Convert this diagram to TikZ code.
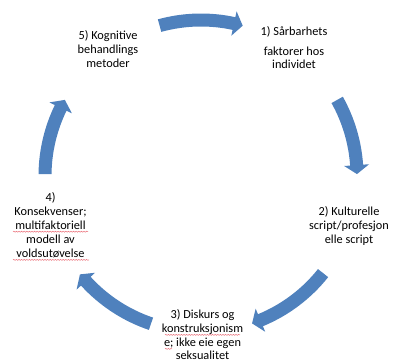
\documentclass[tikz,border=0pt]{standalone}
\usepackage{fontspec}
\setmainfont{Carlito}
\usetikzlibrary{calc,decorations.pathmorphing}
\definecolor{arrowblue}{RGB}{79,129,189}
\definecolor{spellred}{RGB}{235,110,120}
\newcommand\lines[1]{\begin{tabular}[t]{@{}c@{}}#1\end{tabular}}
% #1 tail angle, #2 tip angle (clockwise)
\newcommand\cyclearrow[2]{%
  \fill[arrowblue] ($(C)+(#1:149.5bp)$)
    arc[start angle=#1, end angle={#2+3.3}, radius=149.5bp]
    -- ($(C)+({#2+3.3}:143.5bp)$)
    -- ($(C)+(#2:156bp)$)
    -- ($(C)+({#2+3.3}:168.5bp)$)
    -- ($(C)+({#2+3.3}:162.5bp)$)
    arc[start angle={#2+3.3}, end angle=#1, radius=162.5bp]
    -- cycle;}
\begin{document}
\begin{tikzpicture}[x=1bp,y=1bp,
  lbl/.style={anchor=base, inner sep=0pt, font=\fontsize{12.3bp}{13.9bp}\selectfont},
  spell/.style={draw=spellred, line width=0.5bp, decorate,
    decoration={snake, amplitude=0.5bp, segment length=2.6bp}}]
\useasboundingbox (0,0) rectangle (396,362);
\coordinate (C) at (201,186);
% arrows
\cyclearrow{105.4}{74.5}
\cyclearrow{29.2}{0.7}
\cyclearrow{-38.5}{-70.9}
\cyclearrow{-108.7}{-140.9}
\cyclearrow{179.3}{150.8}
% labels
\node[lbl] (n1) at (294,327) {\lines{1) Sårbarhets\\[6.1bp] faktorer hos\\ individet}};
\node[lbl] (n2) at (349,146.3) {\lines{2) Kulturelle\\ script/profesjon\\ elle script}};
\node[lbl] (n3) at (202.5,43.7) {\lines{3) Diskurs og\\ konstruksjonism\\ e; ikke eie egen\\ seksualitet}};
\node[lbl] (n4) at (50.5,160.3) {\lines{4)\\ Konsekvenser;\\ multifaktoriell\\ modell av\\ voldsutøvelse}};
\node[lbl] (n5) at (108,322.7) {\lines{5) Kognitive\\ behandlings\\ metoder}};
% spell-check underlines
\draw[spell] (13,130.3) -- (88,130.3);
\draw[spell] (13,102.1) -- (89,102.1);
\draw[spell] (165,27.1) -- (240,27.1);
\draw[spell] (165,13.1) -- (172,13.1);
\end{tikzpicture}
\end{document}
